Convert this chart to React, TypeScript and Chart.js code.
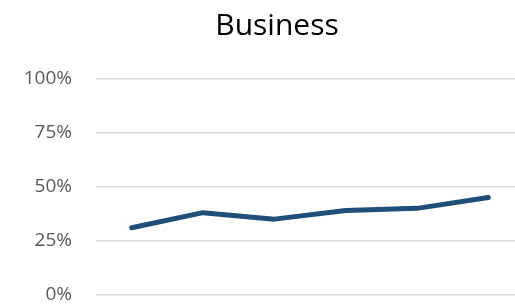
import React, { useEffect, useRef } from "react";
import { Chart, registerables } from "chart.js";

Chart.register(...registerables);

const title = "Business";
const categories = ["1", "2", "3", "4", "5", "6"];
const values = [31, 38, 35, 39, 40, 45];
const yTicks = [0, 25, 50, 75, 100];

export default function App() {
  const ref = useRef<HTMLCanvasElement | null>(null);
  useEffect(() => {
    if (!ref.current) return;
    const chart = new Chart(ref.current, {
      type: "line",
      data: {
        labels: categories,
        datasets: [
          {
            label: title,
            data: values,
            borderColor: "#1F4E79",
            borderWidth: 5,
            borderCapStyle: "round",
            borderJoinStyle: "round",
            pointRadius: 0,
            tension: 0,
            fill: false,
            yAxisID: "y",
          },
        ],
      },
      options: {
        animation: false,
        responsive: true,
        maintainAspectRatio: false,
        layout: { padding: { left: 0, right: 0, top: 8, bottom: 0 } },
        plugins: {
          legend: { display: false },
          tooltip: { enabled: false },
          title: {
            display: true,
            text: title,
            color: "#000000",
            font: { family: "'Open Sans', sans-serif", size: 30, weight: "normal" },
            padding: { top: 0, bottom: 35 },
          },
        },
        scales: {
          x: {
            type: "category",
            offset: true,
            display: false,
          },
          y: {
            min: 0,
            max: 100,
            afterBuildTicks: (s: any) => {
              s.ticks = yTicks.map((v) => ({ value: v }));
            },
            afterFit: (s: any) => {
              s.width = 96;
            },
            border: { display: false },
            grid: { color: "#D9D9D9", lineWidth: 1.5, drawTicks: false },
            ticks: {
              color: "#595959",
              padding: 24,
              font: { family: "'Open Sans', sans-serif", size: 19 },
              callback: (v: any) => v + "%",
            },
          },
          yRight: {
            type: "linear",
            position: "right",
            min: 0,
            max: 100,
            display: true,
            afterFit: (s: any) => {
              s.width = 30;
            },
            border: { display: false },
            grid: { display: false, drawTicks: false },
            ticks: { display: false },
          },
        },
      },
    });
    return () => chart.destroy();
  }, []);
  return (
    <div style={{ position: "fixed", left: 0, top: 0, width: 554, height: 330, background: "#fff" }}>
      <canvas ref={ref} />
    </div>
  );
}
